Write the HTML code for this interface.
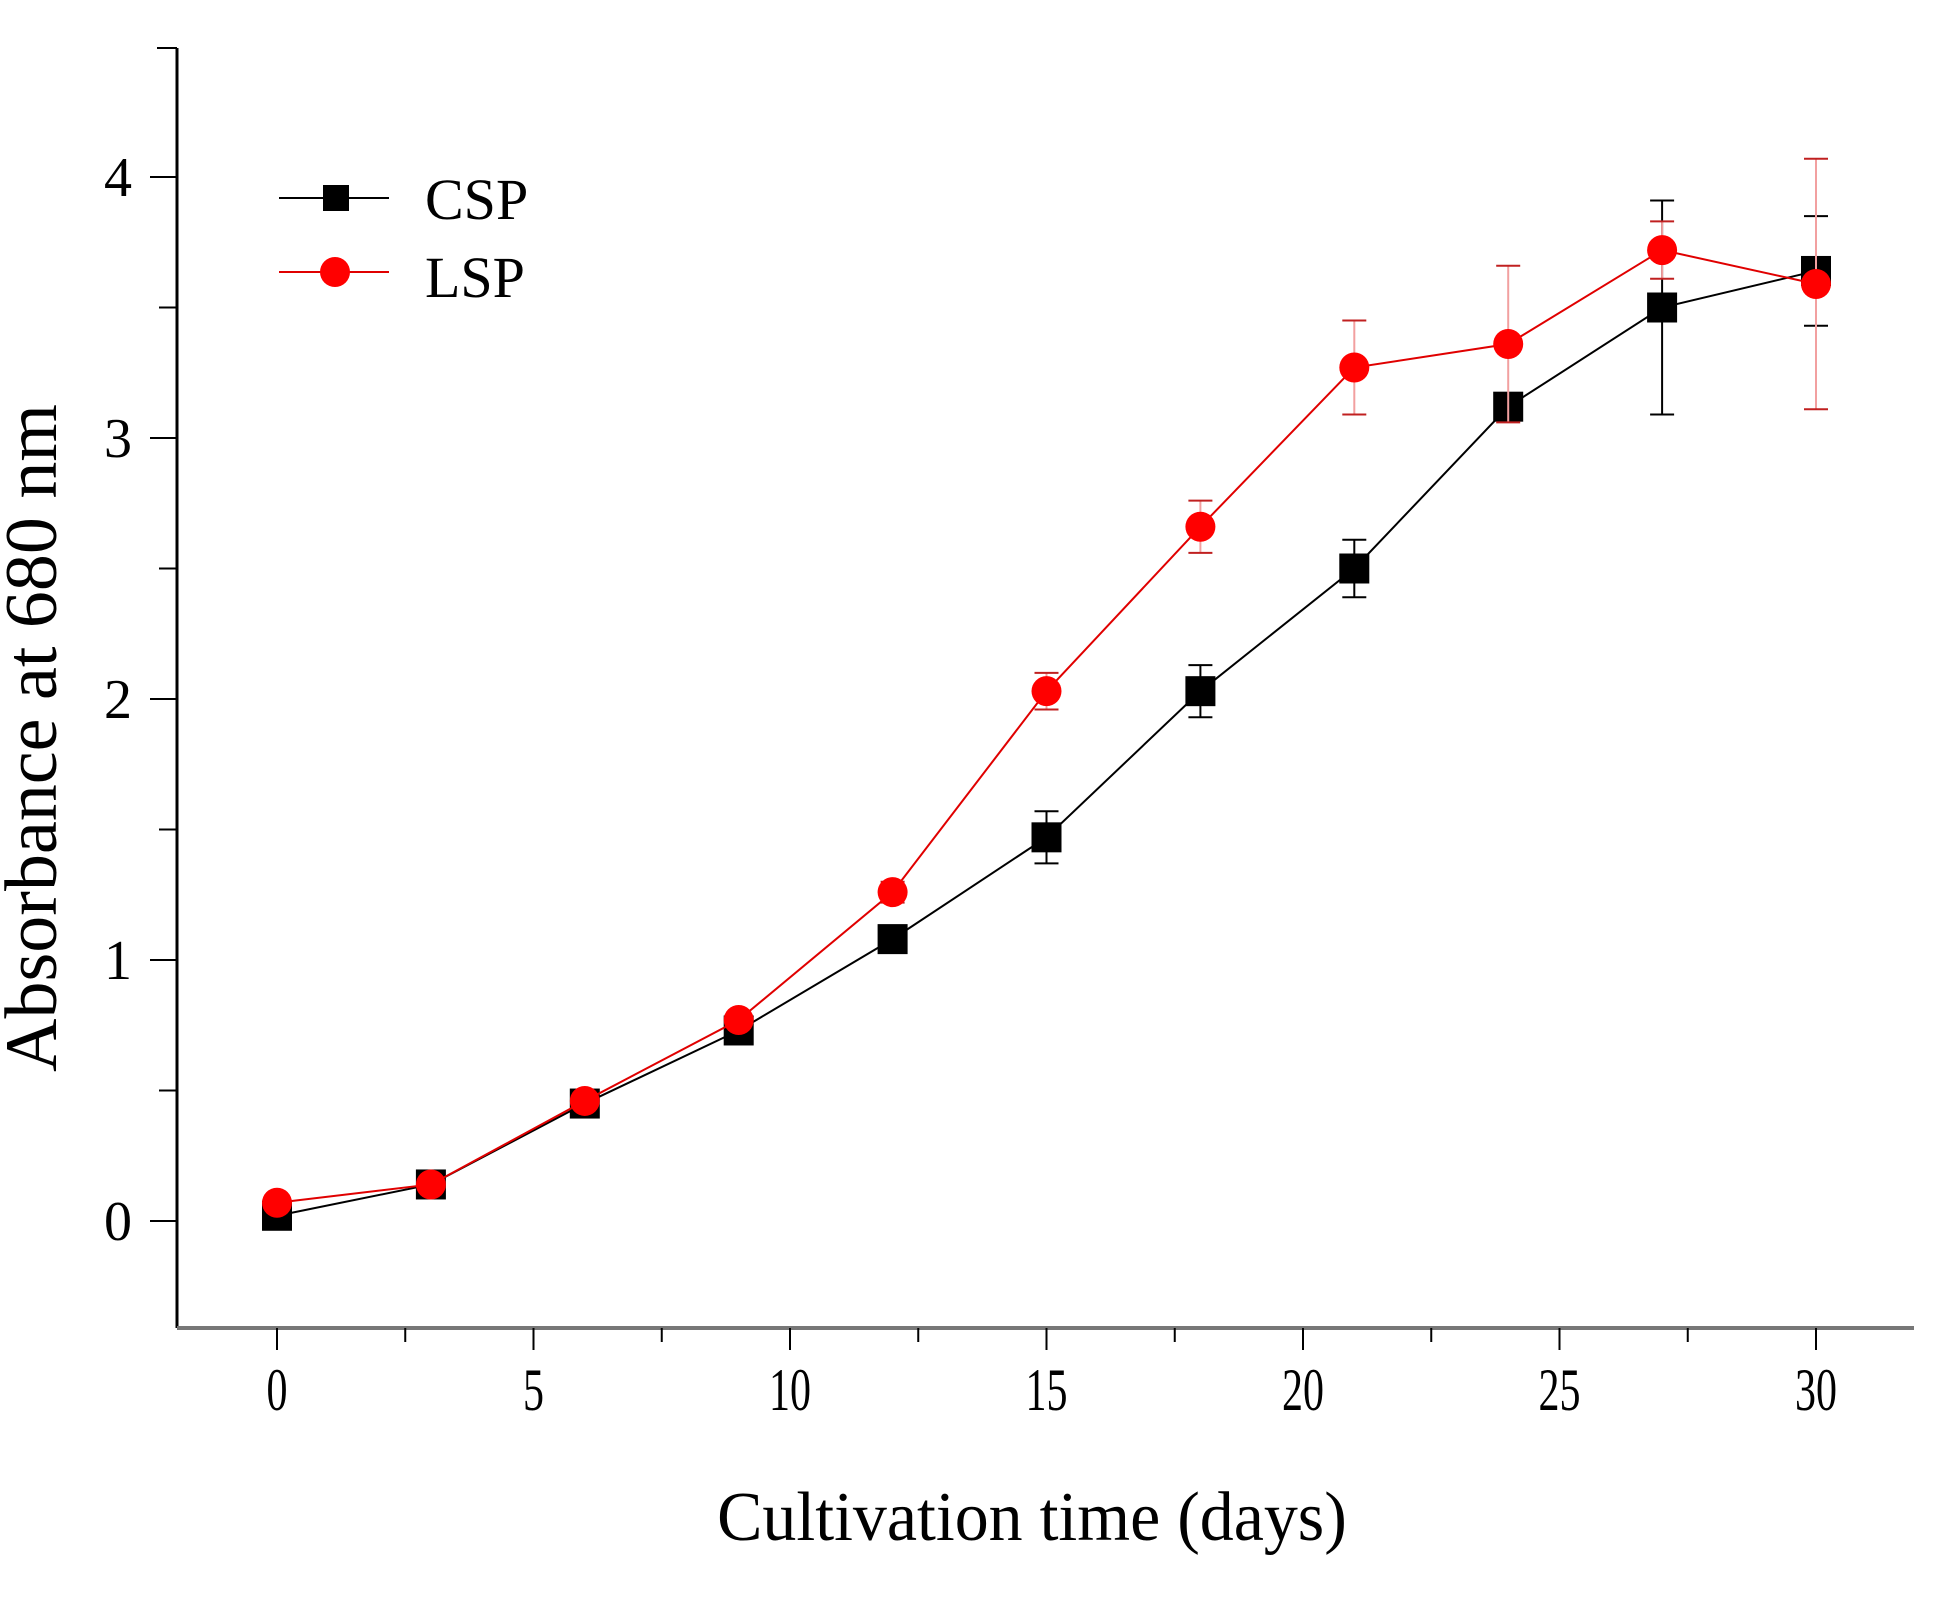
<!DOCTYPE html>
<html><head><meta charset="utf-8"><style>
html,body{margin:0;padding:0;background:#fff;}
svg{display:block;}
text{font-family:"Liberation Serif",serif;fill:#000;}
</style></head><body>
<svg id="chart" width="1960" height="1602" viewBox="0 0 1960 1602" xmlns="http://www.w3.org/2000/svg">
<g id="axes"></g>
<g id="series"></g>
<text x="1032" y="1540" font-size="70" text-anchor="middle" transform="translate(1032 0) scale(0.97 1) translate(-1032 0)">Cultivation time (days)</text>
<text x="0" y="0" font-size="74" text-anchor="middle" transform="translate(56 738) rotate(-90)">Absorbance at 680 nm</text>
<g>
<g>
<line x1="279" y1="198" x2="389" y2="198" stroke="#000" stroke-width="2"/>
<rect x="323" y="185" width="26" height="26" fill="#000"/>
<text x="425" y="219" font-size="58">CSP</text>
</g>
<g>
<line x1="279" y1="272" x2="389" y2="272" stroke="#e00000" stroke-width="2"/>
<circle cx="335" cy="272" r="15" fill="#ff0000"/>
<text x="425" y="297" font-size="58">LSP</text>
</g>
</g>
</svg>
<script>
const days = [0,3,6,9,12,15,18,21,24,27,30];
const cspValues = [0.02,0.14,0.45,0.73,1.08,1.47,2.03,2.50,3.12,3.50,3.64];
const cspErrors = [0.01,0.02,0.03,0.03,0.03,0.10,0.10,0.11,0.05,0.41,0.21];
const lspValues = [0.07,0.14,0.46,0.77,1.26,2.03,2.66,3.27,3.36,3.72,3.59];
const lspErrors = [0.01,0.02,0.03,0.03,0.04,0.07,0.10,0.18,0.30,0.11,0.48];
const xTicks = [0,5,10,15,20,25,30];
const yTicks = [0,1,2,3,4];

(function(){
const NS = "http://www.w3.org/2000/svg";
const X0 = 277, XS = 51.3;
const Y0 = 1221, YS = 261;
const xPos = v => X0 + v * XS;
const yPos = v => Y0 - v * YS;
function mk(tag, attrs, parent){
  const e = document.createElementNS(NS, tag);
  for (const k in attrs) e.setAttribute(k, attrs[k]);
  parent.appendChild(e);
  return e;
}
const axes = document.getElementById('axes');
const axLeft = 177, axRight = 1914, axTop = 48, axBottom = 1328;
const yAxis = mk('line', {x1:axLeft,y1:axTop,x2:axLeft,y2:axBottom,stroke:'#000','stroke-width':3}, axes);


const xAxis = mk('line', {x1:axLeft,y1:axBottom,x2:axRight,y2:axBottom,stroke:'#777','stroke-width':4}, axes);


mk('line', {x1:axLeft-20,y1:axTop,x2:axLeft,y2:axTop,stroke:'#000','stroke-width':2}, axes);
for (let v = 0; v <= 4.01; v += 0.5) {
  const major = Math.abs(v - Math.round(v)) < 1e-6;
  mk('line', {x1:axLeft-(major?27:18),y1:yPos(v),x2:axLeft,y2:yPos(v),stroke:'#000','stroke-width':2}, axes);
}
yTicks.forEach(t => {
  const tx = mk('text', {x:axLeft-45,y:yPos(t)+19,'font-size':56,'text-anchor':'end'}, axes);
  tx.textContent = t;
  
  
});
for (let v = 0; v <= 30.01; v += 2.5) {
  const major = Math.abs(v/5 - Math.round(v/5)) < 1e-6;
  mk('line', {x1:xPos(v),y1:axBottom,x2:xPos(v),y2:axBottom+(major?22:14),stroke:'#000','stroke-width':2}, axes);
}
xTicks.forEach(t => {
  const tx = mk('text', {x:xPos(t),y:1410,'font-size':60,'text-anchor':'middle',transform:`translate(${xPos(t)} 0) scale(0.7 1) translate(${-xPos(t)} 0)`}, axes);
  tx.textContent = t;
  
  
});

const series = document.getElementById('series');
function drawSeries(name, vals, errs, lineColor, errColor, capColor, marker){
  const g = mk('g', {}, series);
  
  
  days.forEach((d,i) => {
    const x = xPos(d);
    const eb = mk('line', {x1:x,y1:yPos(vals[i]+errs[i]),x2:x,y2:yPos(vals[i]-errs[i]),stroke:errColor,'stroke-width':2}, g);
    
    
    [vals[i]+errs[i], vals[i]-errs[i]].forEach(v => {
      mk('line', {x1:x-12,y1:yPos(v),x2:x+12,y2:yPos(v),stroke:capColor,'stroke-width':2}, g);
    });
  });
  const pts = days.map((d,i) => xPos(d) + ',' + yPos(vals[i])).join(' ');
  const pl = mk('polyline', {points:pts,fill:'none',stroke:lineColor,'stroke-width':2}, g);
  
  
  days.forEach((d,i) => {
    let m;
    if (marker === 'square') m = mk('rect', {x:xPos(d)-15,y:yPos(vals[i])-15,width:30,height:30,fill:'#000'}, g);
    else m = mk('circle', {cx:xPos(d),cy:yPos(vals[i]),r:15,fill:'#ff0000'}, g);
    
    
  });
}
drawSeries('csp', cspValues, cspErrors, '#000', '#000', '#000', 'square');
drawSeries('lsp', lspValues, lspErrors, '#e00000', '#f2a0a0', '#c02020', 'circle');
})();
</script>
</body></html>
